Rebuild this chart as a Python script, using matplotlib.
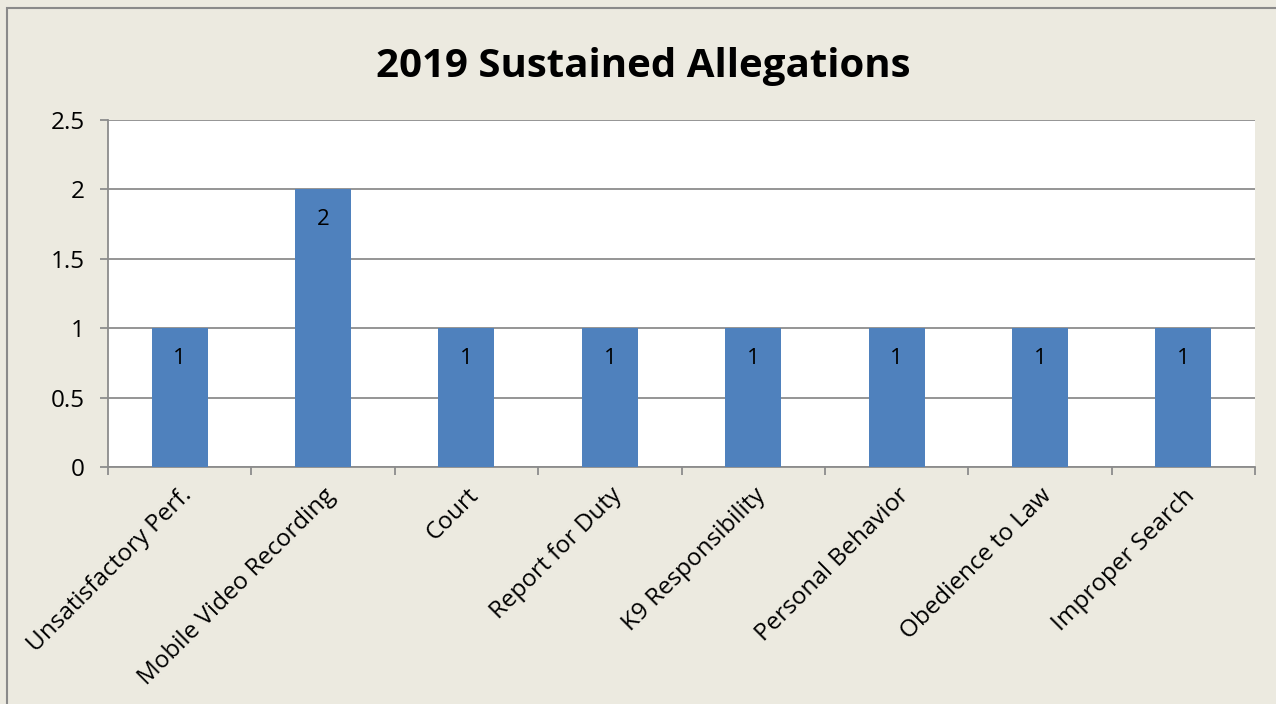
import matplotlib.pyplot as plt
from matplotlib.patches import Rectangle

# ------------------------------------------------------------
# Data
# ------------------------------------------------------------
categories = ["Unsatisfactory Perf.", "Mobile Video Recording", "Court",
              "Report for Duty", "K9 Responsibility", "Personal Behavior",
              "Obedience to Law", "Improper Search"]
counts = [1, 2, 1, 1, 1, 1, 1, 1]
y_ticks = [0, 0.5, 1, 1.5, 2, 2.5]
y_tick_labels = ["0", "0.5", "1", "1.5", "2", "2.5"]

BG = "#ECEAE0"
BAR = "#4F81BD"
GRID = "#8C8C8C"

plt.rcParams["font.family"] = ["Open Sans", "DejaVu Sans"]

fig = plt.figure(figsize=(12.76, 7.04), dpi=100)
fig.patch.set_facecolor(BG)

# chart-area frame (left and top edges visible)
fig.patches.append(Rectangle((7 / 1276, -0.1), 1.2, (704 - 8) / 704 + 0.1,
                             transform=fig.transFigure, fill=False,
                             edgecolor="#8A8A8A", linewidth=1.5))

ax = fig.add_axes([108 / 1276, (704 - 467) / 704,
                   (1255 - 108) / 1276, (467 - 120) / 704])
ax.set_facecolor("white")

x = list(range(len(categories)))
bars = ax.bar(x, counts, width=0.39, color=BAR, zorder=3)

for rect, v in zip(bars, counts):
    ax.annotate(f"{v}", (rect.get_x() + rect.get_width() / 2, v),
                xytext=(0, -22), textcoords="offset points",
                ha="center", va="center", fontsize=16, zorder=4)

ax.set_xlim(-0.5, len(categories) - 0.5)
ax.set_ylim(0, 2.5)
ax.set_yticks(y_ticks)
ax.set_yticklabels(y_tick_labels, fontsize=17.5)
ax.yaxis.grid(True, color=GRID, linewidth=1.3, zorder=0)

# category boundaries get the x tick marks; labels sit at centres
ax.set_xticks([i - 0.5 for i in range(len(categories) + 1)])
ax.set_xticklabels([])
ax.set_xticks(x, minor=True)
ax.set_xticklabels(categories, minor=True, rotation=45, ha="right",
                   rotation_mode="anchor", fontsize=17.5)
ax.tick_params(axis="x", which="minor", length=0, pad=12)
ax.tick_params(axis="x", which="major", length=6, width=1.3, color=GRID)
ax.tick_params(axis="y", length=6, width=1.3, color=GRID, pad=11)

for side in ("top", "right"):
    ax.spines[side].set_visible(False)
for side in ("left", "bottom"):
    ax.spines[side].set_color(GRID)
    ax.spines[side].set_linewidth(1.3)

fig.text(643 / 1276, 1 - 66 / 704, "2019 Sustained Allegations",
         ha="center", va="center", fontsize=29, fontweight="bold")

fig.savefig("out.png", dpi=100, facecolor=BG)
